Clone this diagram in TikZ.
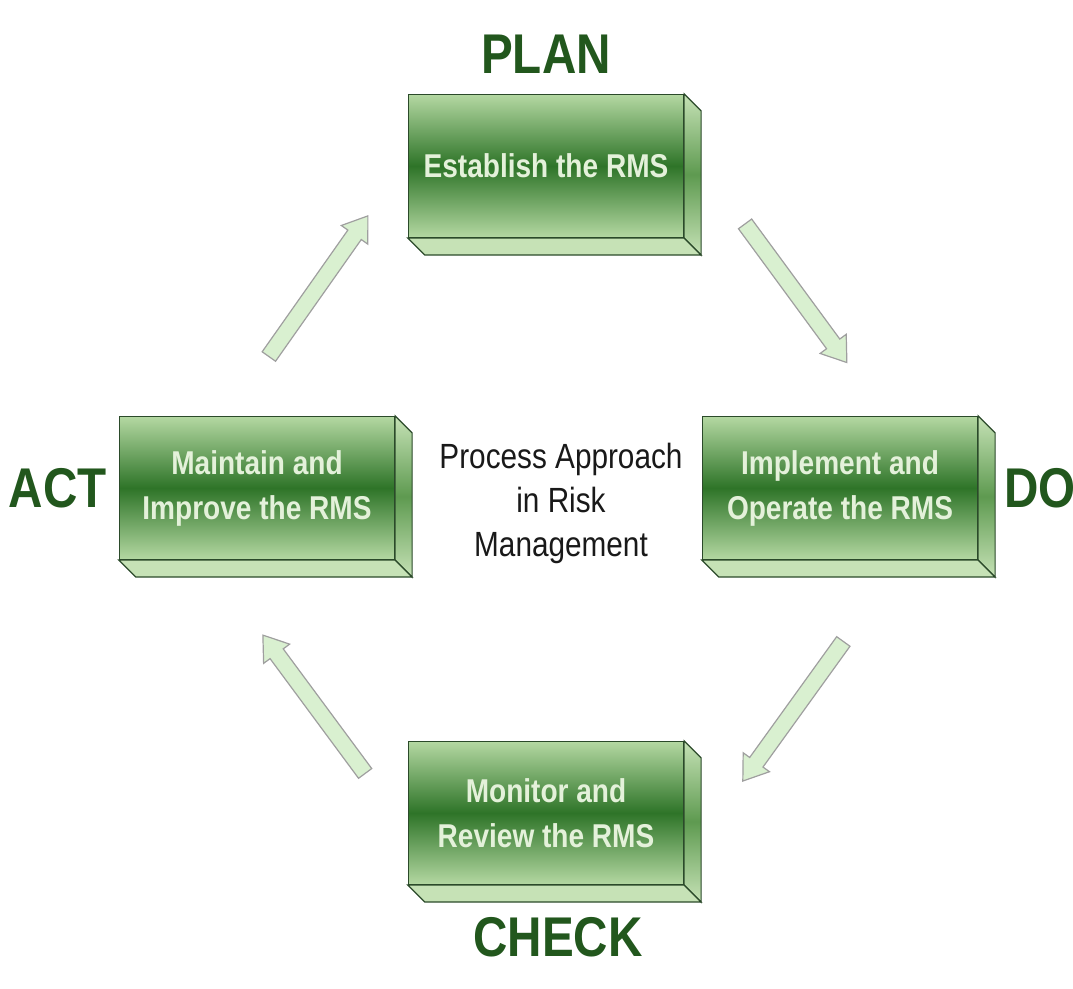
\documentclass[tikz,border=0pt]{standalone}
\usepackage{fontspec}
\usetikzlibrary{shapes.arrows,calc,positioning}
\newfontfamily\rmsfont[FakeStretch=0.85]{Liberation Sans}
\definecolor{rmsdark}{HTML}{2E7428}
\definecolor{rmslight}{HTML}{B4D8A2}
\definecolor{rmsside}{HTML}{C6E2B6}
\definecolor{rmsmid}{HTML}{5E9A50}
\definecolor{rmsline}{HTML}{2B4A2A}
\definecolor{rmstext}{HTML}{E4F1DA}
\definecolor{phasegreen}{HTML}{22571D}
\definecolor{arrowfill}{HTML}{D9F0D0}

\begin{document}
\begin{tikzpicture}[x=0.5pt,y=-0.5pt,
  every node/.style={font=\rmsfont},
  rmsbox/.style={rectangle, draw=rmsline, line width=0.6pt,
    minimum width=137.5pt, minimum height=71.5pt, align=center,
    top color=rmslight, bottom color=rmslight, middle color=rmsdark,
    text=rmstext, font=\rmsfont\bfseries\fontsize{16.5}{22.5}\selectfont},
  sideface/.style={draw=rmsline, line width=0.6pt,
    top color=rmsside, bottom color=rmsside, middle color=rmsmid},
  bottomface/.style={draw=rmsline, line width=0.6pt, fill=rmsside},
  phase/.style={inner sep=0pt, text=phasegreen,
    font=\rmsfont\bfseries\fontsize{28}{30}\selectfont},
  flowarrow/.style={single arrow, draw=gray!75, fill=arrowfill, line width=0.6pt,
    minimum height=86pt, inner xsep=0pt, inner ysep=3.8pt,
    single arrow head extend=4pt, single arrow tip angle=70,
    sloped, allow upside down}]
  \useasboundingbox (0,0) rectangle (1073,989);

  % the four stages
  \node[rmsbox] (plan) at (546,166) {Establish the RMS};
  \node[rmsbox] (do) at (840,488) {Implement and\\Operate the RMS};
  \node[rmsbox] (check) at (546,813) {Monitor and\\Review the RMS};
  \node[rmsbox] (act) at (257,488) {Maintain and\\Improve the RMS};

  % depth of the boxes
  \foreach \n in {plan,do,check,act} {
    \draw[sideface] (\n.north east) -- ++(17,17) -- ($(\n.south east)+(17,17)$)
      -- (\n.south east) -- cycle;
    \draw[bottomface] (\n.south west) -- ++(17,17) -- ($(\n.south east)+(17,17)$)
      -- (\n.south east) -- cycle;
  }

  % phase labels
  \node[phase, above=10pt of plan] (planlbl) {PLAN};
  \node[phase, right=13pt of do] (dolbl) {DO};
  \node[phase, below=16pt of check, xshift=6pt] (checklbl) {CHECK};
  \node[phase, left=6pt of act] (actlbl) {ACT};

  \node[align=center, text=black!90, font=\rmsfont\fontsize{17.5}{22}\selectfont]
    (title) at (561,503) {Process Approach\\in Risk\\Management};

  % cycle arrows
  \coordinate (ap1) at (265,362);  \coordinate (ap2) at (365,220);
  \coordinate (pd1) at (740,217);  \coordinate (pd2) at (845,360);
  \coordinate (dc1) at (848,635);  \coordinate (dc2) at (745,778);
  \coordinate (ca1) at (370,780);  \coordinate (ca2) at (265,638);
  \path (ap1) -- node[flowarrow] (apar) {} (ap2);
  \path (pd1) -- node[flowarrow] (pdar) {} (pd2);
  \path (dc1) -- node[flowarrow] (dcar) {} (dc2);
  \path (ca1) -- node[flowarrow] (caar) {} (ca2);
\end{tikzpicture}
\end{document}
